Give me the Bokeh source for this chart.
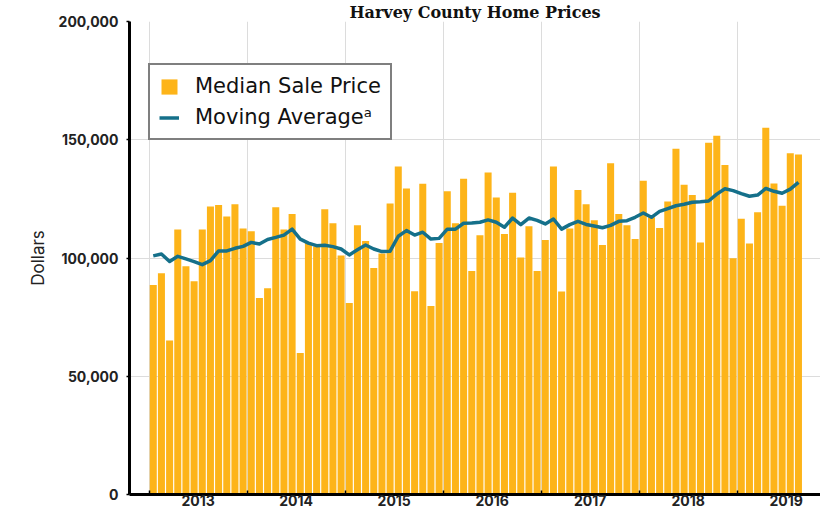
from bokeh.plotting import figure
from bokeh.models import (ColumnDataSource, FixedTicker, NumeralTickFormatter, Range1d,
                          Legend, LegendItem)
from bokeh.embed import file_html
from bokeh.resources import INLINE

years = ["2013", "2014", "2015", "2016", "2017", "2018", "2019"]

median_price = [88600, 93500, 65100, 112100, 96500, 90200, 112100, 121800, 122400, 117600, 122700, 112500,
                111300, 83100, 87200, 121500, 112100, 118600, 59800, 106300, 104900, 120600, 114700, 101100,
                81000, 113900, 107200, 95800, 101900, 123000, 138700, 129400, 85900, 131400, 79700, 106300,
                128200, 114700, 133500, 94500, 109600, 136200, 125600, 110200, 127600, 100200, 113400, 94500,
                107600, 138700, 85800, 112500, 128700, 122700, 116000, 105500, 140100, 118600, 113900, 108000,
                132700, 117200, 112700, 123900, 146200, 131000, 126600, 106600, 148700, 151700, 139300, 99900,
                116600, 106100, 119300, 155100, 131500, 122100, 144300, 143800]

moving_avg = [100900, 101700, 98500, 100700, 99600, 98500, 97200, 98900, 103000, 103000, 104100, 104900,
              106600, 105900, 107800, 108700, 109700, 112200, 108000, 106300, 105200, 105400, 104800, 103800,
              101300, 103500, 105500, 103800, 102700, 102900, 109200, 111600, 109700, 110900, 108000, 108300,
              112200, 112200, 114700, 114800, 115100, 116100, 115100, 113000, 116900, 114100, 116900, 115900,
              114400, 116500, 112200, 114100, 115500, 114200, 113500, 112800, 113800, 115500, 115800, 117200,
              119000, 117200, 119700, 120900, 122100, 122700, 123600, 123800, 124100, 127000, 129300, 128500,
              127200, 126100, 126600, 129400, 128200, 127400, 129100, 132000]

y_ticks = [0, 50000, 100000, 150000, 200000]

n = len(median_price)
src = ColumnDataSource(dict(x=[i + 0.5 for i in range(n)], price=median_price, ma=moving_avg))

FONT = "Inter"
LFONT = "DejaVu Sans"
BAR = "#FDB419"
LINE = "#15708A"

p = figure(width=820, height=508, output_backend="svg", toolbar_location=None,
           x_range=Range1d(-2.41, 82.2), y_range=Range1d(0, 200000),
           min_border_left=129, min_border_right=0, min_border_top=0, min_border_bottom=0)

p.title.text = "Harvey County Home Prices"
p.title.align = "center"
p.title.text_font = "DejaVu Serif"
p.title.text_font_size = "16px"
p.title.text_font_style = "bold"
p.title.text_color = "#111111"
p.title.standoff = 0

p.outline_line_color = None
p.background_fill_color = "white"

r_bar = p.vbar(x="x", top="price", width=0.86, source=src, fill_color=BAR, line_color=None)
r_line = p.line(x="x", y="ma", source=src, line_color=LINE, line_width=3.5, line_join="round")

# x axis: labels centred in each year, tick marks / grid at year boundaries
centers = [6 + 12 * k for k in range(len(years))]
bounds = [12 * k for k in range(len(years) + 1)]
p.xaxis.ticker = FixedTicker(ticks=centers, minor_ticks=bounds)
p.xaxis.major_label_overrides = {c: y for c, y in zip(centers, years)}
p.xaxis.major_tick_line_color = None
p.xaxis.major_tick_in = 0
p.xaxis.major_tick_out = 0
p.xaxis.minor_tick_in = 4
p.xaxis.minor_tick_out = 0
p.xaxis.minor_tick_line_color = "black"
p.xaxis.minor_tick_line_width = 1.5
p.xaxis.axis_line_color = "black"
p.xaxis.axis_line_width = 3
p.xaxis.major_label_standoff = 0
p.xaxis.major_label_text_font = FONT
p.xaxis.major_label_text_font_size = "14px"
p.xaxis.major_label_text_font_style = "bold"
p.xaxis.major_label_text_color = "#222222"
p.xgrid.ticker = FixedTicker(ticks=bounds)
p.xgrid.grid_line_color = "#dcdcdc"
p.xgrid.grid_line_width = 1

# y axis
p.yaxis.ticker = FixedTicker(ticks=y_ticks)
p.yaxis.formatter = NumeralTickFormatter(format="0,0")
p.yaxis.axis_line_color = "black"
p.yaxis.axis_line_width = 3
p.yaxis.major_tick_out = 3
p.yaxis.major_tick_in = 0
p.yaxis.major_tick_line_width = 1.5
p.yaxis.minor_tick_line_color = None
p.yaxis.major_label_standoff = 8
p.yaxis.major_label_text_font = FONT
p.yaxis.major_label_text_font_size = "14px"
p.yaxis.major_label_text_font_style = "bold"
p.yaxis.major_label_text_color = "#222222"
p.yaxis.axis_label = "Dollars"
p.yaxis.axis_label_text_font = FONT
p.yaxis.axis_label_text_font_size = "17px"
p.yaxis.axis_label_text_font_style = "normal"
p.yaxis.axis_label_text_color = "#222222"
p.yaxis.axis_label_standoff = 8
p.ygrid.grid_line_color = "#dcdcdc"
p.ygrid.grid_line_width = 1

legend = Legend(items=[LegendItem(label="Median Sale Price", renderers=[r_bar]),
                       LegendItem(label="Moving Average\u1d43", renderers=[r_line])],
                location=(19, 354))
legend.border_line_color = "black"
legend.border_line_width = 2
legend.background_fill_color = "white"
legend.background_fill_alpha = 1
legend.label_text_font = LFONT
legend.label_text_font_size = "21px"
legend.label_text_color = "#111111"
legend.glyph_width = 20
legend.glyph_height = 19
legend.label_standoff = 16
legend.label_height = 22
legend.padding = 9
legend.spacing = 7
legend.margin = 0
p.add_layout(legend)

open("out.html", "w").write(file_html(p, INLINE))
